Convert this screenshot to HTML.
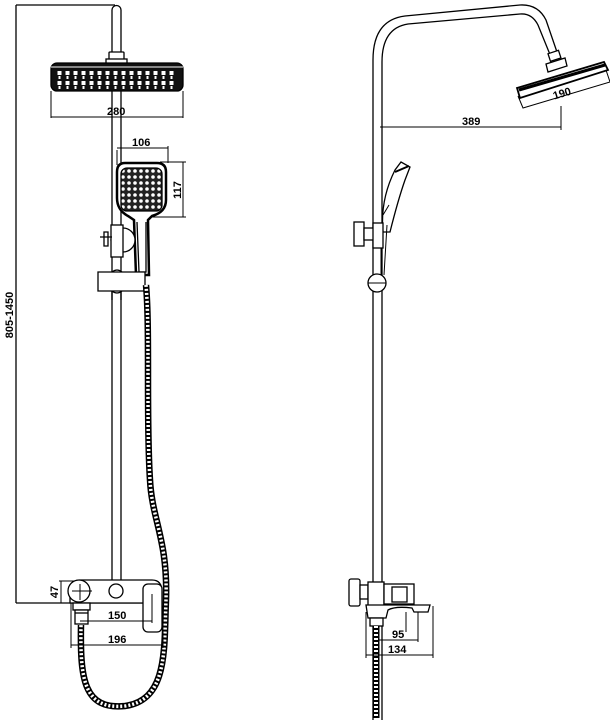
<!DOCTYPE html>
<html><head><meta charset="utf-8"><style>
html,body{margin:0;padding:0;background:#fff;}
svg{display:block}
text{font-family:"Liberation Sans Narrow","Liberation Sans",sans-serif;font-weight:bold;font-size:11px;fill:#000}
</style></head><body>
<svg width="610" height="720" viewBox="0 0 610 720" xmlns="http://www.w3.org/2000/svg">
<defs>
<pattern id="hp" width="6" height="6" patternUnits="userSpaceOnUse">
<rect width="6" height="6" fill="#222"/><circle cx="3" cy="3" r="1.8" fill="#fff"/>
</pattern>
<pattern id="rp" width="8" height="10" patternUnits="userSpaceOnUse">
<rect width="8" height="10" fill="#111"/><rect x="1.5" y="1" width="4" height="4" fill="#fff"/><rect x="2.5" y="6" width="2" height="3" fill="#fff"/>
</pattern>
</defs>
<g fill="none" stroke="#000" stroke-width="1.3">
<!-- LEFT VIEW -->
<line x1="16" y1="5" x2="16" y2="603"/>
<line x1="16" y1="5" x2="115" y2="5"/>
<line x1="16" y1="603" x2="145" y2="603"/>
<path d="M112 62 V10 a4.5 4.5 0 0 1 9 0 V62" fill="#fff"/>
<rect x="109" y="52" width="15" height="8" rx="1" fill="#fff"/>
<rect x="106" y="59" width="21" height="5" fill="#fff"/>
<rect x="51" y="63" width="132" height="28" rx="6" fill="#111"/>
<rect x="57" y="69" width="120" height="20" fill="url(#rp)" stroke="none"/>
<line x1="51" y1="67" x2="183" y2="67" stroke="#fff" stroke-width="1"/>
<line x1="51" y1="91" x2="51" y2="118" stroke-width="1"/>
<line x1="183" y1="91" x2="183" y2="118" stroke-width="1"/>
<line x1="51" y1="117" x2="183" y2="117" stroke-width="1"/>
<path d="M112 91 V580 M121 91 V580"/>
<line x1="117" y1="150" x2="117" y2="165" stroke-width="1"/>
<line x1="168" y1="146" x2="168" y2="163" stroke-width="1"/>
<line x1="117" y1="148" x2="168" y2="148" stroke-width="1"/>
<line x1="160" y1="162" x2="186" y2="162" stroke-width="1"/>
<line x1="150" y1="217" x2="186" y2="217" stroke-width="1"/>
<line x1="183" y1="162" x2="183" y2="217" stroke-width="1"/>
<path d="M125 163 H157 Q166 163 166 172 V200 Q166 212 152 216 L148 220 L149 275 H136 L134 220 L128 216 Q117 210 117 198 V172 Q117 163 125 163 Z" fill="#fff" stroke-width="2.5"/>
<rect x="121" y="168" width="41" height="43" rx="6" fill="url(#hp)" stroke="#000"/>
<path d="M137 222 L139 272 H146 L146 222"/>
<circle cx="123" cy="240" r="12" fill="#fff"/>
<rect x="111" y="225" width="12" height="32" fill="#fff"/>
<path d="M100 237 h12 M104 232 v14 h4 v-14 z" fill="#fff"/>
<path d="M98 272 H145 V291 H98 Z" fill="#fff"/>
<path d="M112 272 q5 -4 10 0 M112 291 q5 4 10 0"/>
<path d="M112 291 V300 M121 291 V300"/>
<path d="M146 285 C150 330 146 420 150 480 C152 520 168 540 166 600 C164 650 168 700 125 706 C84 710 80 680 81 625" stroke="#000" stroke-width="6.5"/>
<path d="M146 285 C150 330 146 420 150 480 C152 520 168 540 166 600 C164 650 168 700 125 706 C84 710 80 680 81 625" stroke="#fff" stroke-width="3.5" stroke-dasharray="2 2"/>
<path d="M80 580 H152 Q162 580 162 592 V603 H70 V592 Q70 580 80 580 Z" fill="#fff"/>
<circle cx="79" cy="591" r="11" fill="#fff"/>
<line x1="72" y1="591" x2="92" y2="591" stroke-width="1"/>
<line x1="80" y1="584" x2="80" y2="600" stroke-width="1"/>
<circle cx="116" cy="591" r="7" fill="#fff"/>
<rect x="143" y="584" width="19" height="48" rx="5" fill="#fff"/>
<rect x="73" y="603" width="17" height="7" fill="#fff"/>
<rect x="75" y="610" width="13" height="14" fill="#fff"/>
<line x1="75" y1="613" x2="88" y2="613"/>
<line x1="61" y1="581" x2="61" y2="603" stroke-width="1"/>
<line x1="59" y1="581" x2="75" y2="581" stroke-width="1"/>
<line x1="80" y1="621" x2="152" y2="621" stroke-width="1"/>
<line x1="152" y1="594" x2="152" y2="623" stroke-width="1"/>
<line x1="71" y1="603" x2="71" y2="648" stroke-width="1"/>
<line x1="163" y1="630" x2="163" y2="648" stroke-width="1"/>
<line x1="71" y1="645" x2="163" y2="645" stroke-width="1"/>

<!-- RIGHT VIEW -->
<path d="M373 720 V60 Q373 20 405 16 L520 5 Q538 4 546 20 L558 55"/>
<path d="M382 720 V62 Q382 28 408 24 L520 14 Q532 13 538 25 L551 57"/>
<rect x="549" y="52" width="11" height="8" fill="#fff" transform="rotate(-18 554 56)"/>
<path d="M546 64 L565 58 L567 66 L548 72 Z" fill="#fff"/>
<path d="M517 88 L604 62 L608 70 L520 98 Z" fill="#fff" stroke-width="1.8"/>
<path d="M519 90 L605 65" stroke-width="3"/>
<path d="M518 96 L523 108 L610 82 L606 70" stroke-width="1"/>
<line x1="380" y1="127" x2="561" y2="127" stroke-width="1"/>
<line x1="561" y1="106" x2="561" y2="130" stroke-width="1"/>
<path d="M383 232 Q380 200 395 170 L401 162 L410 167 L405 180 Q398 200 390 232 Z" fill="#fff"/>
<path d="M395 172 L409 166" stroke-width="2"/>
<path d="M383 215 L389 205 M387 225 L384 275 M381 275 V232" stroke-width="1"/>
<rect x="354" y="222" width="10" height="24" fill="#fff"/>
<rect x="364" y="228" width="10" height="12" fill="#fff"/>
<rect x="373" y="223" width="10" height="25" fill="#fff"/>
<circle cx="377" cy="283" r="9" fill="#fff"/>
<line x1="368" y1="283" x2="386" y2="283" stroke-width="1"/>
<rect x="349" y="579" width="11" height="27" rx="2" fill="#fff"/>
<rect x="360" y="585" width="8" height="14" fill="#fff"/>
<rect x="368" y="582" width="16" height="24" fill="#fff"/>
<rect x="384" y="584" width="30" height="20" fill="#fff"/>
<rect x="392" y="587" width="15" height="15"/>
<path d="M366 605 H430 L428 612 H414 L412 608 Q395 606 388 610 L386 618 H368 Z" fill="#fff"/>
<rect x="370" y="618" width="13" height="8" fill="#fff"/>
<path d="M376 626 V718" stroke="#000" stroke-width="7"/>
<path d="M376 626 V718" stroke="#fff" stroke-width="4" stroke-dasharray="2 2"/>
<line x1="406" y1="612" x2="406" y2="632" stroke-width="1"/>
<line x1="418" y1="612" x2="418" y2="642" stroke-width="1"/>
<line x1="366" y1="612" x2="366" y2="658" stroke-width="1"/>
<line x1="433" y1="606" x2="433" y2="658" stroke-width="1"/>
<line x1="378" y1="640" x2="418" y2="640" stroke-width="1"/>
<line x1="366" y1="655" x2="433" y2="655" stroke-width="1"/>
</g>
<text x="107" y="115">280</text>
<text x="132" y="146">106</text>
<text x="0" y="0" transform="translate(181,190) rotate(-90)" text-anchor="middle">117</text>
<text x="0" y="0" transform="translate(13,315) rotate(-90)" text-anchor="middle">805-1450</text>
<text x="0" y="0" transform="translate(58,592) rotate(-90)" text-anchor="middle">47</text>
<text x="108" y="619">150</text>
<text x="108" y="643">196</text>
<text x="462" y="125">389</text>
<text x="0" y="0" transform="translate(563,97) rotate(-17)" text-anchor="middle">190</text>
<text x="392" y="638">95</text>
<text x="388" y="653">134</text>
</svg>
</body></html>
